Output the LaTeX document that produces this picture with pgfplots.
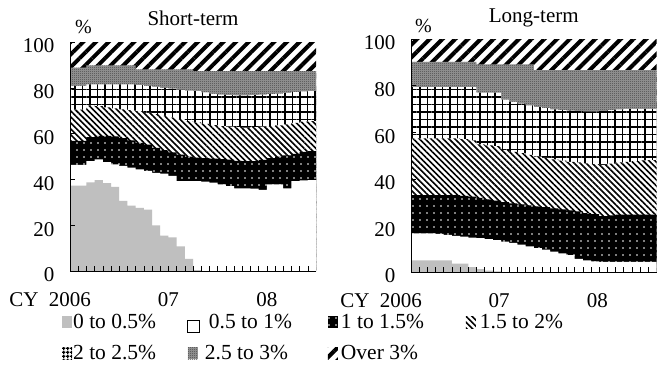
\documentclass[border=0pt]{standalone}
\usepackage{pgfplots}
\pgfplotsset{compat=1.18}
\usepackage{pgfplotstable}
\usepackage{fontspec}
\setmainfont{Liberation Serif}
\usetikzlibrary{patterns,patterns.meta}

\tikzdeclarepattern{
  name=checker, type=uncolored,
  bounding box={(0,0) and (2pt,2pt)},
  tile size={(2pt,2pt)},
  code={\pgfpathrectangle{\pgfpointorigin}{\pgfpoint{1pt}{1pt}}
        \pgfpathrectangle{\pgfpoint{1pt}{1pt}}{\pgfpoint{1pt}{1pt}}
        \pgfusepath{fill}}
}

\tikzset{
 sOver/.style={fill=white, postaction={pattern={Lines[angle=45,distance=9pt,line width=4pt]}}},
 sChk/.style={fill=black!40, postaction={pattern color=black!75, pattern=checker}},
 sGrid/.style={fill=white, postaction={pattern={Hatch[angle=0,distance=7.5pt,line width=1.8pt]}}},
 sGridL/.style={fill=white, postaction={pattern={Hatch[angle=0,distance=4pt,line width=1.3pt]}}},
 sStr/.style={fill=white, postaction={pattern={Lines[angle=-45,distance=4.2pt,line width=1.6pt]}}},
 sDot/.style={fill=black, postaction={pattern color=white, pattern={Dots[distance=7pt,radius=0.8pt]}}},
 sWhite/.style={fill=white},
 sGray/.style={fill=black!25},
}

% cumulative tops of each band (percent)
\pgfplotstableread{
x  g    w    b    s    h    c
0  37.3 46.3 56.8 70.5 80.8 88.8
1  37.3 46.3 56.8 70.5 80.8 88.8
2  38.7 48.0 58.5 72.2 81.5 89.8
3  39.7 48.8 59.0 72.0 81.5 89.8
4  38.4 47.6 59.0 71.5 81.5 89.8
5  36.7 46.6 58.8 71.0 81.5 89.8
6  30.6 45.9 58.0 70.6 81.5 89.8
7  28.5 45.1 57.0 70.3 81.5 89.8
8  27.6 44.4 56.0 69.8 81.2 88.1
9  26.8 43.7 55.2 69.1 80.8 88.1
10 19.9 42.9 53.8 68.5 80.4 88.1
11 15.5 42.5 52.8 67.7 80.0 88.1
12 14.7 41.5 51.8 67.0 79.6 88.1
13 10.8 39.3 50.8 66.3 79.2 88.1
14 5.3  39.3 50.0 65.5 78.8 88.1
15 0.4  39.3 49.5 64.9 78.5 87.3
16 0    39.0 49.3 64.2 78.0 87.3
17 0    38.6 49.1 63.7 77.3 87.3
18 0    37.8 48.9 63.3 77.0 87.3
19 0    37.1 48.6 63.0 76.8 87.3
20 0    36.1 48.1 62.8 76.7 87.3
21 0    36.1 48.0 62.6 76.7 87.3
22 0    36.0 48.0 62.8 76.8 87.3
23 0    35.4 48.5 63.0 77.0 87.3
24 0    37.8 49.3 63.3 77.2 87.3
25 0    37.8 49.9 63.6 77.5 87.3
26 0    36.1 50.5 64.0 77.8 87.3
27 0    39.3 51.2 64.7 78.1 87.3
28 0    39.6 52.0 65.2 78.4 87.3
29 0    39.7 52.4 65.5 78.6 87.3
30 0    39.7 52.4 65.5 78.6 87.3
}\datashort

\pgfplotstableread{
x  g    w    b    s    h    c
0  5.0  16.6 33.0 57.3 79.4 90.2
1  5.0  16.6 33.0 57.3 79.4 90.2
2  5.0  16.6 33.0 57.3 79.4 90.2
3  5.0  16.4 33.0 57.3 79.4 90.2
4  5.0  15.9 33.0 57.3 79.4 90.2
5  3.6  15.5 33.0 57.3 79.4 90.2
6  3.6  15.2 32.7 57.0 79.4 90.2
7  2.1  14.8 32.3 56.5 79.4 90.2
8  1.2  14.5 31.8 54.8 77.0 89.1
9  0.6  14.1 31.2 54.4 77.0 89.1
10 0.3  13.7 30.6 54.0 77.0 89.1
11 0    13.0 30.0 52.3 74.0 89.1
12 0    12.5 29.5 51.6 73.0 89.1
13 0    11.8 29.0 51.0 72.3 89.1
14 0    11.0 28.6 50.3 71.5 89.1
15 0    10.3 28.2 49.5 70.8 86.6
16 0    9.6  27.8 49.0 70.3 86.6
17 0    8.8  27.3 48.3 69.8 86.6
18 0    8.0  26.9 47.8 69.5 86.6
19 0    7.2  26.4 47.3 69.3 86.6
20 0    5.6  26.0 47.0 69.0 86.6
21 0    5.0  25.3 46.6 68.9 86.6
22 0    4.6  24.8 46.3 68.9 86.6
23 0    4.4  24.0 46.0 69.0 86.6
24 0    4.3  24.3 46.5 69.5 86.6
25 0    4.3  24.6 47.0 69.8 86.6
26 0    4.3  24.6 47.3 70.0 86.6
27 0    4.3  24.6 47.6 70.0 86.6
28 0    4.3  24.6 47.9 70.0 86.6
29 0    4.3  24.6 48.0 70.0 86.6
30 0    4.3  24.6 48.0 70.0 86.6
}\datalong

\pgfplotsset{
 panel/.style={
  scale only axis,
  clip=false,
  font=\fontsize{21}{25}\selectfont,
  xmin=0, xmax=30, ymin=0, ymax=100,
  axis x line*=bottom, axis y line*=left,
  axis line style={line width=1pt},
  axis on top,
  tick align=inside,
  major tick length=5pt,
  tick style={black, line width=0.6pt},
  xtick={1,...,29}, xticklabels={},
  extra x ticks={0,12,24},
  extra x tick labels={{\llap{CY\ \ }2006},07,08},
  extra x tick style={tick style={draw=none}},
  xticklabel style={yshift=-18pt},
  ytick={0,20,...,100},
  yticklabel style={xshift=-12pt, yshift=-4pt},
  /pgf/number format/assume math mode=true,
  title style={at={(0.5,1)}, anchor=base, yshift=10.5pt},
  const plot mark left,
 }
}

\begin{document}
\begin{tikzpicture}
\path[use as bounding box] (0,0) rectangle (666pt,-367pt);

\begin{axis}[panel,
  at={(70pt,-271pt)}, anchor=south west,
  width=246pt, height=229pt,
  title={Short-term},
  legend columns=4,
  legend image code/.code={\path[#1] (0pt,-6pt) rectangle (10pt,6pt);},
  legend style={draw=none, fill=none, at={(axis description cs:-0.045,-0.175)}, anchor=north west,
     font=\fontsize{21.5}{25}\selectfont,
     row sep=12pt, nodes={inner sep=1pt}, /tikz/every even column/.append style={column sep=3pt}},
  legend cell align=left,
]
\addlegendimage{sGray, draw=none}\addlegendentry{\makebox[110pt][l]{0 to 0.5\%}}
\addlegendimage{sWhite, draw=black, line width=0.8pt, yshift=-4pt, xscale=1.2}\addlegendentry{\makebox[123pt][l]{\hspace{8pt}0.5 to 1\%}}
\addlegendimage{sDot, draw=none}\addlegendentry{\makebox[123pt][l]{\hspace{2pt}1 to 1.5\%}}
\addlegendimage{sStr, draw=none}\addlegendentry{\makebox[100pt][l]{\hspace{3pt}1.5 to 2\%}}
\addlegendimage{sGridL, draw=none}\addlegendentry{2 to 2.5\%}
\addlegendimage{sChk, draw=none}\addlegendentry{\hspace{4pt}2.5 to 3\%}
\addlegendimage{sOver, draw=none}\addlegendentry{\hspace{2pt}Over 3\%}

\addplot[sOver, draw=none, forget plot] coordinates {(0,100) (30,100)} \closedcycle;
\addplot[sChk, draw=none, forget plot] table[x=x,y=c] {\datashort} \closedcycle;
\addplot[sGrid, draw=none, forget plot] table[x=x,y=h] {\datashort} \closedcycle;
\addplot[sStr, draw=none, forget plot] table[x=x,y=s] {\datashort} \closedcycle;
\addplot[sDot, draw=none, forget plot] table[x=x,y=b] {\datashort} \closedcycle;
\addplot[sWhite, draw=none, forget plot] table[x=x,y=w] {\datashort} \closedcycle;
\addplot[sGray, draw=none, forget plot] table[x=x,y=g] {\datashort} \closedcycle;
\node[anchor=base west, inner sep=0pt, xshift=5pt, yshift=9pt] at (rel axis cs:0,1) {\fontsize{20}{22}\selectfont\%};
\end{axis}

\begin{axis}[panel,
  at={(411pt,-272pt)}, anchor=south west,
  width=245.5pt, height=233pt,
  title={Long-term},
  xticklabel style={xshift=-10pt},
]
\addplot[sOver, draw=none] coordinates {(0,100) (30,100)} \closedcycle;
\addplot[sChk, draw=none] table[x=x,y=c] {\datalong} \closedcycle;
\addplot[sGrid, draw=none] table[x=x,y=h] {\datalong} \closedcycle;
\addplot[sStr, draw=none] table[x=x,y=s] {\datalong} \closedcycle;
\addplot[sDot, draw=none] table[x=x,y=b] {\datalong} \closedcycle;
\addplot[sWhite, draw=none] table[x=x,y=w] {\datalong} \closedcycle;
\addplot[sGray, draw=none] table[x=x,y=g] {\datalong} \closedcycle;
\node[anchor=base west, inner sep=0pt, xshift=4pt, yshift=7pt] at (rel axis cs:0,1) {\fontsize{20}{22}\selectfont\%};
\end{axis}
\end{tikzpicture}
\end{document}
